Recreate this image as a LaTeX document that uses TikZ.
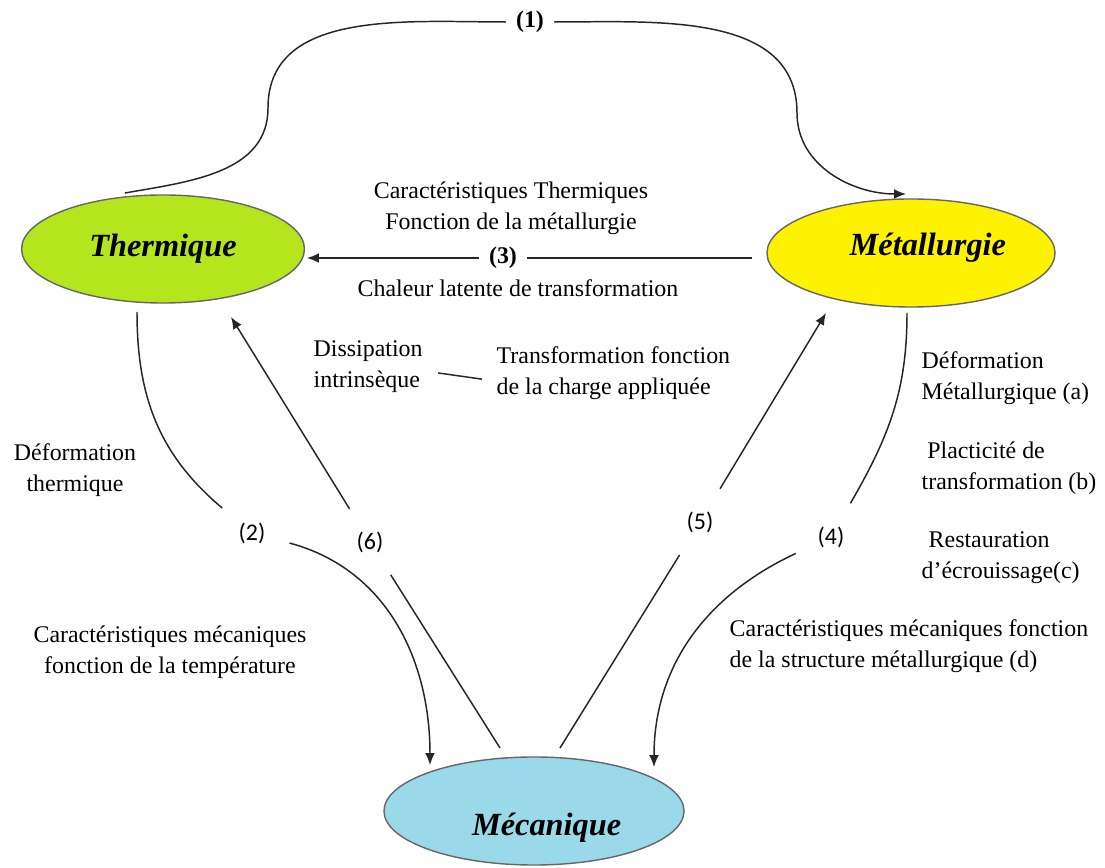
\documentclass[tikz,border=0pt]{standalone}
\usepackage{fontspec}
\setmainfont{Liberation Serif}
\newfontfamily\chiffres{Carlito}
\usetikzlibrary{shapes.geometric, arrows.meta}
\definecolor{vertthermique}{RGB}{181,230,29}
\definecolor{jaunemetal}{RGB}{255,242,0}
\definecolor{bleumeca}{RGB}{153,217,234}
\tikzset{domaine/.style={ellipse, draw=black!60, line width=1pt, inner sep=0pt, minimum height=2.7cm}}
\tikzset{domtexte/.style={font=\fontsize{23}{27}\selectfont\bfseries\itshape}}
\tikzset{trait/.style={line width=1.05pt, draw=black!85}}
\tikzset{fleche/.style={trait, -{Latex[length=8.5pt,width=7pt]}}}
\tikzset{numero/.style={circle, inner sep=11pt, font=\chiffres\fontsize{17}{20}\selectfont}}
\tikzset{numgras/.style={inner sep=7pt, font=\fontsize{17}{20}\selectfont\bfseries}}
\tikzset{texte/.style={font=\fontsize{17}{22}\selectfont, inner sep=1pt}}

\begin{document}
\begin{tikzpicture}[x=0.025cm, y=0.025cm]
    \useasboundingbox (0,0) rectangle (1105,868);

    % les trois domaines
    \node[domaine, domtexte, fill=vertthermique, minimum width=7.07cm] (therm) at (163,619) {Thermique};
    \node[domaine, fill=jaunemetal, minimum width=7.2cm,
          label={[domtexte, xshift=12pt, yshift=4pt]center:Métallurgie}] (metal) at (911,615) {};
    \node[domaine, fill=bleumeca, minimum width=7.5cm,
          label={[domtexte, xshift=9pt, yshift=-12pt]center:Mécanique}] (meca) at (534,57) {};

    % numeros des couplages
    \node[numgras] (n1) at (530,846) {(1)};
    \node[numgras] (n3) at (503,610) {(3)};
    \node[numero] (n2) at (252,335) {(2)};
    \node[numero] (n6) at (370,326) {(6)};
    \node[numero] (n5) at (700,346) {(5)};
    \node[numero] (n4) at (831,331) {(4)};

    \coordinate (d1) at (125,675);
    \coordinate (h1) at (268,760);
    \coordinate (h2) at (797,755);
    \coordinate (f1) at (906,674);
    \coordinate (d3) at (752,610);
    \coordinate (f3) at (307,610);
    \coordinate (d2) at (137,556);
    \coordinate (f2) at (430,103);
    \coordinate (d6) at (500,120);
    \coordinate (f6) at (231,551);
    \coordinate (d5) at (560,120);
    \coordinate (f5) at (826,555);
    \coordinate (d4) at (907,555);
    \coordinate (f4) at (654,101);

    \draw[trait] (d1) to[out=10,in=-90] (h1) to[out=90,in=180] (n1);
    \draw[fleche] (n1) to[out=0,in=90] (h2) to[out=-90,in=180] (f1);
    \draw[trait] (d3) -- (n3);
    \draw[fleche] (n3) -- (f3);
    \draw[trait] (d2) to[out=-90,in=140] (n2);
    \draw[fleche] (n2) to[out=-15,in=90] (f2);
    \draw[trait] (d6) -- (n6);
    \draw[fleche] (n6) -- (f6);
    \draw[trait] (d5) -- (n5);
    \draw[fleche] (n5) -- (f5);
    \draw[trait] (d4) to[out=-90,in=60] (n4);
    \draw[fleche] (n4) to[out=205,in=90] (f4);

    % textes
    \node[texte, align=center] (carth) at (511,660) {Caractéristiques Thermiques\\Fonction de la métallurgie};
    \node[texte] (chaleur) at (518,580) {Chaleur latente de transformation};
    \node[texte, align=left, anchor=west] (dissip) at (312,501) {Dissipation\\intrinsèque};
    \node[texte, align=left, anchor=west] (transfo) at (495,495) {Transformation fonction\\de la charge appliquée};
    \node[texte, align=center] (defth) at (75,398) {Déformation\\thermique};
    \node[texte, align=center] (carmeca) at (170,216) {Caractéristiques mécaniques\\fonction de la température};
    \node[texte, align=left, anchor=west] (defmet) at (920,490) {Déformation\\Métallurgique (a)};
    \node[texte, align=left, anchor=west] (plast) at (920,400) {\hspace*{4pt}Placticité de\\transformation (b)};
    \node[texte, align=left, anchor=west] (restau) at (920,310) {\hspace*{5pt}Restauration\\d'écrouissage(c)};
    \node[texte, align=left, anchor=west] (carmet) at (728,222) {Caractéristiques mécaniques fonction\\de la structure métallurgique (d)};

    \draw[trait, shorten <=0.35cm, shorten >=0.33cm] ([yshift=-0.1cm]dissip.east) -- ([yshift=-0.2cm]transfo.west);
\end{tikzpicture}
\end{document}
